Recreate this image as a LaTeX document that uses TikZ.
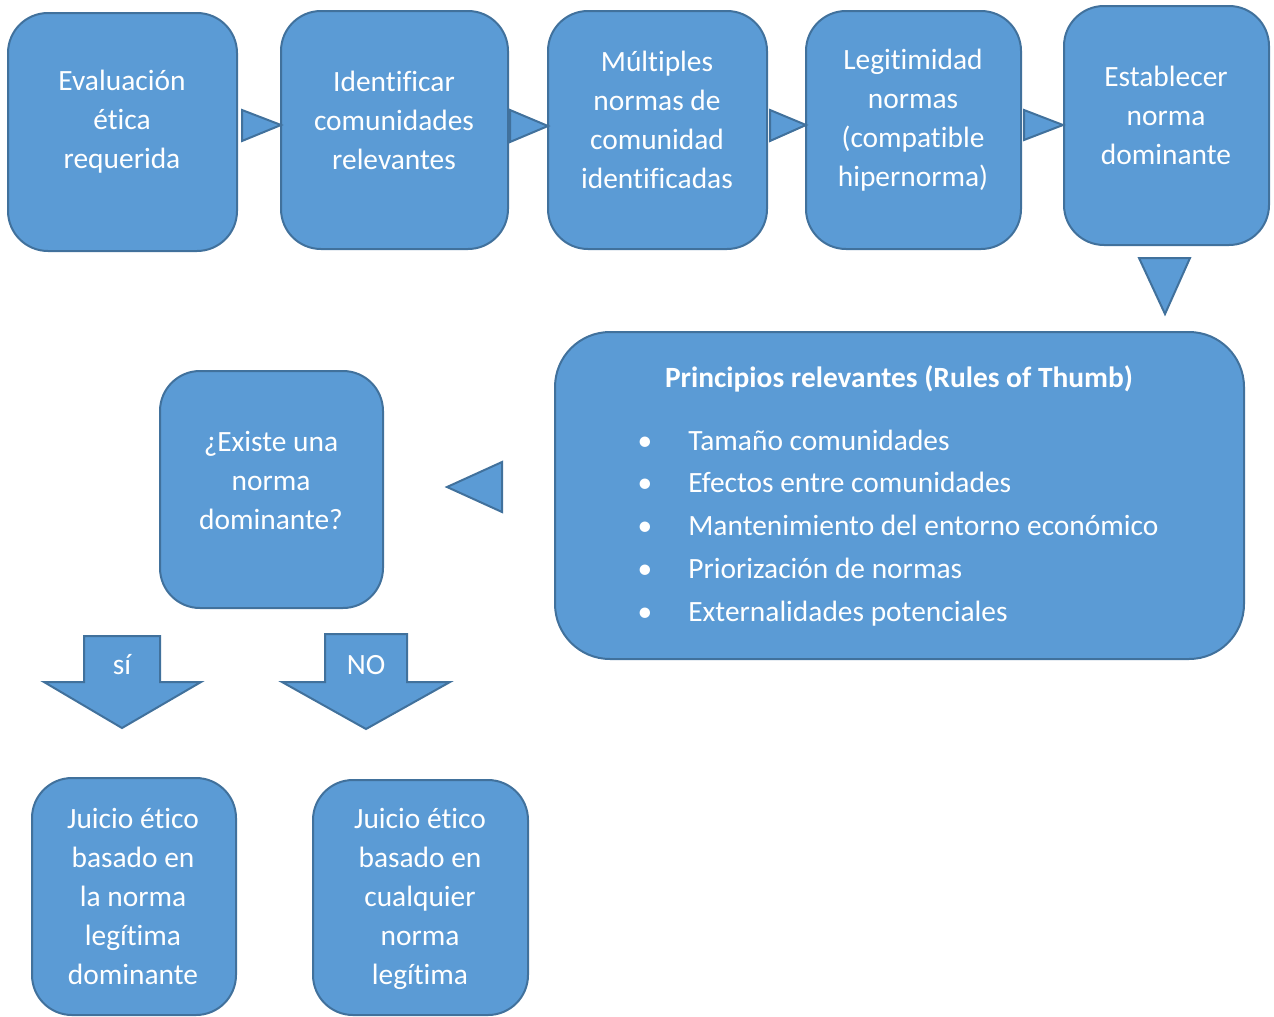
\documentclass[tikz,border=0pt]{standalone}
\usepackage{fontspec}
\setmainfont[Ligatures=NoCommon]{Carlito}
\usetikzlibrary{calc}
\definecolor{boxfill}{HTML}{5B9BD5}
\definecolor{boxline}{HTML}{41719C}

\begin{document}
\begin{tikzpicture}[x=0.6pt,y=-0.6pt,
  box/.style={draw=boxline, fill=boxfill, line width=1.2pt, rounded corners=24pt, inner sep=0pt},
  lbl/.style={text=white, align=center, inner sep=0pt, font=\fontsize{17.65}{23.4}\selectfont},
  item/.style={text=white, inner sep=0pt, anchor=base west, font=\fontsize{17.65}{23.4}\selectfont},
  blk/.style={draw=boxline, fill=boxfill, line width=1.2pt, line join=miter}]
  \useasboundingbox (0,0) rectangle (1274,1016);

  % top row of steps
  \node[box, minimum width=137.4pt, minimum height=142.8pt] (b1) at (122.5,132) {};
  \node[lbl] (t1) at (122,122) {Evaluación\\ética\\requerida};
  \node[box, minimum width=136.2pt, minimum height=142.8pt] (b2) at (394.5,130) {};
  \node[lbl] (t2) at (394,120) {Identificar\\comunidades\\relevantes};
  \node[box, minimum width=131.4pt, minimum height=142.8pt] (b3) at (657.5,130) {};
  \node[lbl] (t3) at (657,119.5) {Múltiples\\normas de\\comunidad\\identificadas};
  \node[box, minimum width=129pt, minimum height=142.8pt] (b4) at (913.5,130) {};
  \node[lbl] (t4) at (913,120) {Legitimidad\\normas\\(compatible\\hipernorma)};
  \node[box, minimum width=123pt, minimum height=143.4pt] (b5) at (1166.5,125.5) {};
  \node[lbl] (t5) at (1166,115) {Establecer\\norma\\dominante};

  % rules of thumb
  \node[box, rounded corners=33pt, minimum width=413.4pt, minimum height=196.2pt] (rules) at (899.5,495.5) {};
  \node[lbl, font=\fontsize{17.65}{23.4}\selectfont\bfseries] (rt) at (899,379) {Principios relevantes (Rules of Thumb)};
  \foreach \t [count=\i from 0] in {Tamaño comunidades, Efectos entre comunidades,
      Mantenimiento del entorno económico, Priorización de normas, Externalidades potenciales}
    \node[item] (r\i) at (688,450+\i*42.75) {\llap{\textbullet\hspace{21.6pt}}\t};

  % question
  \node[box, minimum width=133.8pt, minimum height=142.2pt] (q) at (271.5,489.5) {};
  \node[lbl] (tq) at (271,480) {¿Existe una\\norma\\dominante?};

  % outcomes
  \node[box, minimum width=122.4pt, minimum height=142.2pt] (j1) at (134,896.5) {};
  \node[lbl] (tj1) at (133,896) {Juicio ético\\basado en\\la norma\\legítima\\dominante};
  \node[box, minimum width=129pt, minimum height=141pt] (j2) at (420.5,897.5) {};
  \node[lbl] (tj2) at (420,899) {Juicio ético\\basado en\\cualquier\\norma\\legítima};

  % triangular flow markers
  \draw[blk] (242,110) -- (281,125) -- (242,141) -- cycle;
  \draw[blk] (510,110) -- (548,126) -- (510,142) -- cycle;
  \draw[blk] (770,110) -- (806,125) -- (770,141) -- cycle;
  \draw[blk] (1024,110) -- (1063,125) -- (1024,140) -- cycle;
  \draw[blk] (1139,258) -- (1190,258) -- (1165,314) -- cycle;
  \draw[blk] (502,462) -- (502,512) -- (447,487) -- cycle;

  % block arrows for the two answers
  \draw[blk] (84,636) -- (160,636) -- (160,682) -- (201,682) -- (122,728) -- (44,682) -- (84,682) -- cycle;
  \node[lbl] (yes) at (122,665) {sí};
  \draw[blk] (325,634) -- (407,634) -- (407,682) -- (450,682) -- (366,729) -- (282,682) -- (325,682) -- cycle;
  \node[lbl] (no) at (366,665) {NO};
\end{tikzpicture}
\end{document}
